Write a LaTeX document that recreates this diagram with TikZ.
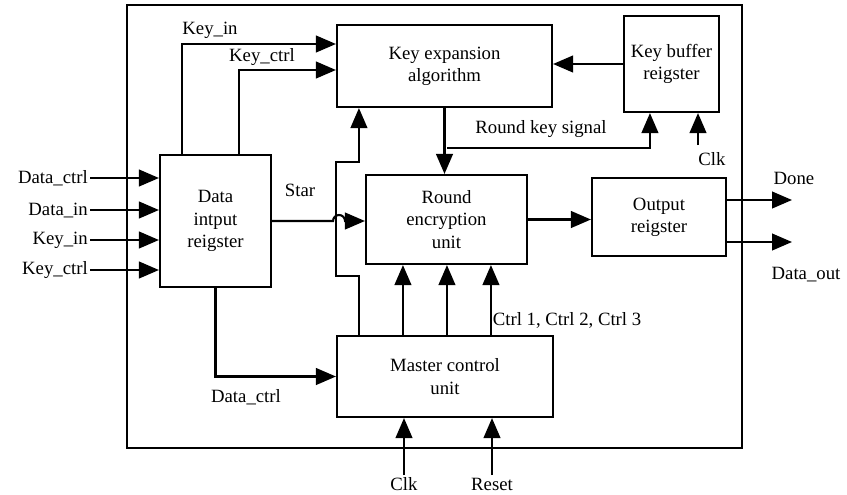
\documentclass[tikz,border=0pt]{standalone}
\usepackage{fontspec}
\setmainfont{Liberation Serif}
\usetikzlibrary{arrows.meta}

\begin{document}
\begin{tikzpicture}
	[
		x=0.03cm, y=-0.03cm,
		line width=1.8pt,
		>={Triangle[length=0.6cm,width=0.5cm]},
		every node/.style = {font=\fontsize{16}{19}\selectfont},
		block/.style = {
			draw, shape=rectangle, align=center,
			inner sep=0pt
		},
		lbl/.style = {inner sep=1pt}
	]
	\useasboundingbox (0,0) rectangle (847,494);
	\draw (127,5) rectangle (742,448);

	% blocks
	\node[block, minimum width=3.33cm, minimum height=3.96cm] (data) at (215.5,221) {Data\\intput\\reigster};
	\node[block, minimum width=6.45cm, minimum height=2.46cm] (kexp) at (444.5,66) {Key expansion\\algorithm};
	\node[block, minimum width=2.85cm, minimum height=2.88cm] (kbuf) at (671.5,64) {Key buffer\\reigster};
	\node[block, minimum width=4.83cm, minimum height=2.67cm] (round) at (446.5,219.5) {Round\\encryption\\unit};
	\node[block, minimum width=4.02cm, minimum height=2.34cm] (outreg) at (659,217) {Output\\reigster};
	\node[block, minimum width=6.48cm, minimum height=2.43cm] (master) at (445,376.5) {Master control\\unit};

	% free ends
	\coordinate (in1) at (90,178);
	\coordinate (in2) at (90,210);
	\coordinate (in3) at (90,240);
	\coordinate (in4) at (90,270);
	\coordinate (done) at (792,200);
	\coordinate (dout) at (792,242);
	\coordinate (rk) at (447,148);
	\coordinate (clkbuf) at (698,145);
	\coordinate (clkm) at (404,475);
	\coordinate (rst) at (492,475);

	% inputs
	\draw[->] (in1) node[left, lbl] {Data\_ctrl} -- (in1 -| data.west);
	\draw[->] (in2) node[left, lbl] {Data\_in} -- (in2 -| data.west);
	\draw[->] (in3) node[left, lbl] {Key\_in} -- (in3 -| data.west);
	\draw[->] (in4) node[left, lbl] {Key\_ctrl} -- (in4 -| data.west);

	% data register to key expansion
	\draw[->] ([xshift=0.69cm]data.north west) |- ([yshift=0.66cm]kexp.west);
	\draw[->] ([xshift=2.4cm]data.north west) |- ([yshift=-0.12cm]kexp.west);
	\node[lbl] (lkeyin) at (210,30) {Key\_in};
	\node[lbl] (lkeyctrl) at (262,57) {Key\_ctrl};

	% star
	\draw[->] (data.east) -- ++(1.83cm,0)
		arc[start angle=180, end angle=0, radius=0.18cm]
		-- (data.east -| round.west);
	\node[lbl] (lstar) at (300,190) {Star};

	% master control to key expansion
	\draw[->] ([xshift=0.69cm]master.north west) -- ++(0,1.77cm)
		-- ++(-0.69cm,0) -- ++(0,3.42cm) -- ++(0.69cm,0)
		-- ([xshift=0.69cm]kexp.south west);

	% round key
	\draw[->] (kexp.south) -- (kexp.south |- round.north);
	\draw[->] (rk) -| ([xshift=0.81cm]kbuf.south west);
	\node[lbl] (lrk) at (541,129) {Round key signal};
	\draw[->] (clkbuf) -- (clkbuf |- kbuf.south);
	\node[lbl] (lclk1) at (712,159) {Clk};
	\draw[->] (kbuf.west) -- (kbuf.west -| kexp.east);

	% outputs
	\draw[->] (round.east) -- (round.east -| outreg.west);
	\draw[->] (done -| outreg.east) -- (done);
	\draw[->] (dout -| outreg.east) -- (dout);
	\node[lbl] (ldone) at (794,178) {Done};
	\node[lbl] (ldout) at (806,275) {Data\_out};

	% control lines
	\foreach \dx/\n in {2.01/a, 3.33/b, 4.65/c}
		\path ([xshift=\dx cm]master.north west) coordinate (ctl\n);
	\foreach \n in {a, b, c}
		\draw[->] (ctl\n) -- (ctl\n |- round.south);
	\node[lbl] (lctrl) at (567,320) {Ctrl 1, Ctrl 2, Ctrl 3};

	\draw[->] (data.south) |- (master.west);
	\node[lbl] (ldctrl) at (246,397) {Data\_ctrl};

	\draw[->] (clkm) -- (clkm |- master.south);
	\draw[->] (rst) -- (rst |- master.south);
	\node[lbl] (lclk2) at (404,484) {Clk};
	\node[lbl] (lrst) at (492,484) {Reset};
\end{tikzpicture}
\end{document}
